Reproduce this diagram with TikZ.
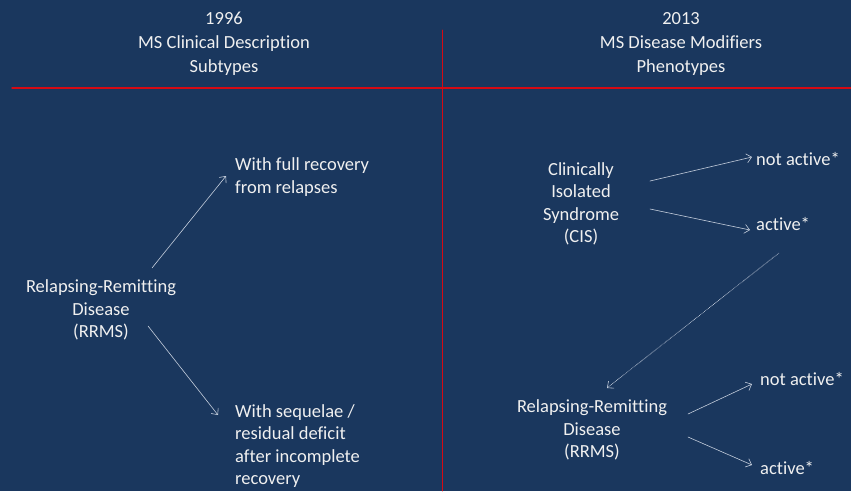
\documentclass[tikz,border=0pt]{standalone}
\usepackage{fontspec}
\setmainfont[Ligatures=NoCommon]{Carlito}
\usepackage{tikz}
\usetikzlibrary{arrows.meta,positioning}
\definecolor{slidebg}{RGB}{26,55,94}
\definecolor{divider}{RGB}{214,10,20}
\definecolor{linkgray}{RGB}{196,206,220}
\tikzset{
  head text/.style={font=\fontsize{18.5}{24}\selectfont,text=white!94!black,align=center,inner sep=0pt},
  body text/.style={font=\fontsize{18.5}{22.5}\selectfont,text=white!94!black,inner sep=0pt},
  link/.style={draw=linkgray,line width=.6pt,-{Straight Barb[length=5pt,width=9pt,line width=.6pt]}}
}

\begin{document}
\begin{tikzpicture}[x=1pt,y=-1pt,line cap=round]
  \fill[slidebg] (0,0) rectangle (851,491);
  \useasboundingbox (0,0) rectangle (851,491);

  % column headings and the red cross
  \node[head text] (old) at (224,44) {1996\\MS Clinical Description\\Subtypes};
  \node[head text] (new) at (681,44) {2013\\MS Disease Modifiers\\Phenotypes};
  \draw[divider,line width=1.4pt] (12,88) -- (851,88);
  \draw[divider,line width=.9pt] (442,30) -- (442,491);

  % 1996 side
  \node[body text,align=center] (rrL) at (101,310) {Relapsing-Remitting\\Disease\\(RRMS)};
  \node[body text,align=left,anchor=west] (full) at (235,177) {With full recovery\\from relapses};
  \node[body text,align=left,anchor=west] (seq) at (235,446) {With sequelae /\\residual deficit\\after incomplete\\recovery};

  % 2013 side
  \node[body text,align=center] (cis) at (581,204) {Clinically\\Isolated\\Syndrome\\(CIS)};
  \node[body text,anchor=west] (cisna) at (756,159) {not active*};
  \node[body text,anchor=west] (cisa) at (756,224) {active*};
  \node[body text,align=center] (rrR) at (592,430) {Relapsing-Remitting\\Disease\\(RRMS)};
  \node[body text,anchor=west] (rrna) at (760,379) {not active*};
  \node[body text,anchor=west] (rra) at (760,468) {active*};

  % arrow ends
  \coordinate (l1s) at (152,268);  \coordinate (l1e) at (226,176);
  \coordinate (l2s) at (148,326);  \coordinate (l2e) at (218,415);
  \coordinate (c1s) at (650,181);  \coordinate (c1e) at (752,157);
  \coordinate (c2s) at (650,209);  \coordinate (c2e) at (750,230);
  \coordinate (ds)  at (779,253);  \coordinate (de)  at (607,388);
  \coordinate (r1s) at (688,414);  \coordinate (r1e) at (752,384);
  \coordinate (r2s) at (688,437);  \coordinate (r2e) at (752,465);

  \draw[link] (l1s) -- (l1e);
  \draw[link] (l2s) -- (l2e);
  \draw[link] (c1s) -- (c1e);
  \draw[link] (c2s) -- (c2e);
  \draw[link,densely dotted] (ds) -- (de);
  \draw[link] (r1s) -- (r1e);
  \draw[link] (r2s) -- (r2e);
\end{tikzpicture}
\end{document}
